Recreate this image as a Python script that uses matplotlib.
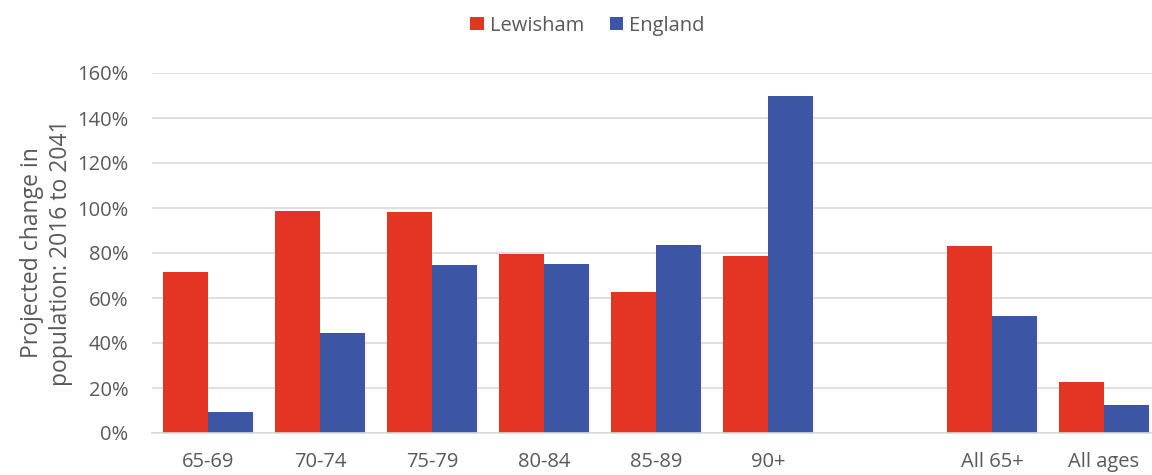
import matplotlib.pyplot as plt
import numpy as np

categories = ["65-69", "70-74", "75-79", "80-84", "85-89", "90+", "", "All 65+", "All ages"]
lewisham = [71.5, 98.5, 98.2, 79.5, 62.5, 78.7, np.nan, 83.3, 22.8]
england = [9.2, 44.3, 74.7, 75.2, 83.4, 150.0, np.nan, 51.8, 12.3]

plt.rcParams['font.family'] = ['Open Sans', 'DejaVu Sans']
grey = '#595959'

fig = plt.figure(figsize=(11.52, 4.75), dpi=100)
ax = fig.add_axes([152 / 1152, 1 - 433 / 475, 1008 / 1152, (433 - 73) / 475])

x = np.arange(len(categories))
w = 0.4
ax.bar(x - w / 2, lewisham, w, color='#E43524', label='Lewisham', zorder=2)
ax.bar(x + w / 2, england, w, color='#3C56A5', label='England', zorder=2)

ax.set_xlim(-0.5, len(categories) - 0.5)
ax.set_ylim(0, 160)
ax.set_yticks(np.arange(0, 161, 20))
ax.set_yticklabels([f"{v}%" for v in range(0, 161, 20)])
ax.set_xticks(x)
ax.set_xticklabels(categories)
ax.tick_params(axis='both', length=0, labelsize=14.5, colors=grey)
ax.tick_params(axis='y', pad=17)
ax.tick_params(axis='x', pad=14)
ax.grid(axis='y', color='#D9D9D9', linewidth=1.2, zorder=0)
for s in ['top', 'right', 'left']:
    ax.spines[s].set_visible(False)
ax.spines['bottom'].set_color('#D9D9D9')
ax.spines['bottom'].set_linewidth(1.2)

ax.set_ylabel("Projected change in\npopulation: 2016 to 2041", fontsize=16.5, color=grey,
              labelpad=3, linespacing=1.3)

fig.legend(loc='upper center', bbox_to_anchor=(0.51, 1.005), ncol=2, frameon=False,
           fontsize=14.5, labelcolor=grey, handlelength=0.65, handleheight=0.65,
           handletextpad=0.3, columnspacing=1.3)

fig.savefig("out.png", dpi=100)
